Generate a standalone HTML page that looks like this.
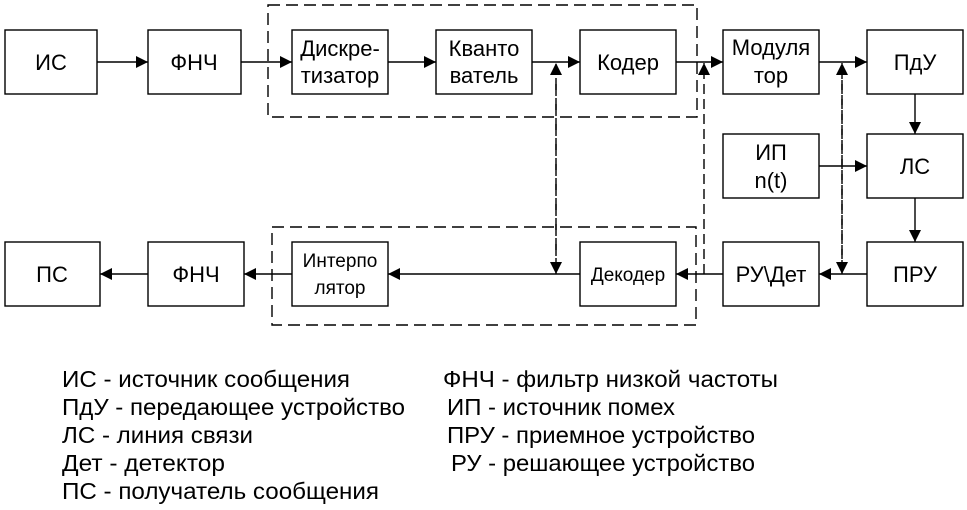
<!DOCTYPE html>
<html><head><meta charset="utf-8"><style>
html,body{margin:0;padding:0;background:#fff;}
svg{display:block;font-family:"Liberation Sans","DejaVu Sans",sans-serif;}
</style></head><body>
<svg width="967" height="510" viewBox="0 0 967 510" xmlns="http://www.w3.org/2000/svg">
<defs>
<marker id="a" markerWidth="13" markerHeight="12" refX="12" refY="6" orient="auto" markerUnits="userSpaceOnUse">
<path d="M0,0 L12,6 L0,12 Z" fill="#000"/></marker>
</defs>
<g fill="none" stroke="#000" stroke-width="1.4">
<rect x="268" y="5" width="429" height="112" stroke-dasharray="12,6"/>
<rect x="272" y="227" width="424" height="98" stroke-dasharray="12,6"/>
<rect x="5" y="30" width="92" height="64"/>
<rect x="148" y="30" width="93" height="64"/>
<rect x="292" y="30" width="96" height="64"/>
<rect x="436" y="30" width="96" height="64"/>
<rect x="580" y="30" width="96" height="64"/>
<rect x="723" y="30" width="96" height="64"/>
<rect x="867" y="30" width="96" height="64"/>
<rect x="723" y="134" width="96" height="64"/>
<rect x="867" y="134" width="96" height="64"/>
<rect x="5" y="242" width="95" height="64"/>
<rect x="148" y="242" width="96" height="64"/>
<rect x="292" y="242" width="96" height="64"/>
<rect x="580" y="242" width="96" height="64"/>
<rect x="723" y="242" width="96" height="64"/>
<rect x="867" y="242" width="96" height="64"/>
<line x1="97" y1="62" x2="148" y2="62" marker-end="url(#a)"/>
<line x1="241" y1="62" x2="292" y2="62" marker-end="url(#a)"/>
<line x1="388" y1="62" x2="436" y2="62" marker-end="url(#a)"/>
<line x1="532" y1="62" x2="580" y2="62" marker-end="url(#a)"/>
<line x1="676" y1="62" x2="723" y2="62" marker-end="url(#a)"/>
<line x1="819" y1="62" x2="867" y2="62" marker-end="url(#a)"/>
<line x1="915" y1="94" x2="915" y2="134" marker-end="url(#a)"/>
<line x1="819" y1="166" x2="867" y2="166" marker-end="url(#a)"/>
<line x1="915" y1="198" x2="915" y2="242" marker-end="url(#a)"/>
<line x1="867" y1="274" x2="819" y2="274" marker-end="url(#a)"/>
<line x1="723" y1="274" x2="676" y2="274" marker-end="url(#a)"/>
<line x1="580" y1="274" x2="388" y2="274" marker-end="url(#a)"/>
<line x1="292" y1="274" x2="244" y2="274" marker-end="url(#a)"/>
<line x1="148" y1="274" x2="100" y2="274" marker-end="url(#a)"/>
<line x1="556" y1="274" x2="556" y2="63" stroke-dasharray="10,4,2,4" marker-end="url(#a)"/>
<line x1="556" y1="80" x2="556" y2="274" stroke-dasharray="10,4,2,4" marker-end="url(#a)"/>
<line x1="704" y1="274" x2="704" y2="63" stroke-dasharray="10,5" marker-end="url(#a)"/>
<line x1="842" y1="274" x2="842" y2="63" stroke-dasharray="10,5" marker-end="url(#a)"/>
<line x1="842" y1="80" x2="842" y2="274" stroke-dasharray="10,5" marker-end="url(#a)"/>
</g>
<g font-size="22" text-anchor="middle" fill="#000">
<text x="51" y="70">ИС</text>
<text x="194" y="70">ФНЧ</text>
<text x="340" y="56">Дискре-</text>
<text x="340" y="83">тизатор</text>
<text x="484" y="56">Кванто</text>
<text x="484" y="83">ватель</text>
<text x="628" y="70">Кодер</text>
<text x="771" y="55">Модуля</text>
<text x="771" y="83">тор</text>
<text x="915" y="70">ПдУ</text>
<text x="771" y="160">ИП</text>
<text x="771" y="188">n(t)</text>
<text x="915" y="174">ЛС</text>
<text x="52" y="282">ПС</text>
<text x="196" y="282">ФНЧ</text>
<text x="340" y="267" font-size="19">Интерпо</text>
<text x="340" y="294" font-size="19">лятор</text>
<text x="628" y="281" font-size="19">Декодер</text>
<text x="771" y="282">РУ\Дет</text>
<text x="915" y="282">ПРУ</text>
</g>
<g font-size="23" fill="#000">
<text x="62" y="387" textLength="288" lengthAdjust="spacingAndGlyphs">ИС - источник сообщения</text>
<text x="62" y="415" textLength="343" lengthAdjust="spacingAndGlyphs">ПдУ - передающее устройство</text>
<text x="62" y="443" textLength="191" lengthAdjust="spacingAndGlyphs">ЛС - линия связи</text>
<text x="62" y="471" textLength="163" lengthAdjust="spacingAndGlyphs">Дет - детектор</text>
<text x="62" y="499" textLength="317" lengthAdjust="spacingAndGlyphs">ПС - получатель сообщения</text>
<text x="443" y="387" textLength="335" lengthAdjust="spacingAndGlyphs">ФНЧ - фильтр низкой частоты</text>
<text x="447" y="415" textLength="228" lengthAdjust="spacingAndGlyphs">ИП - источник помех</text>
<text x="447" y="443" textLength="308" lengthAdjust="spacingAndGlyphs">ПРУ - приемное устройство</text>
<text x="451" y="471" textLength="304" lengthAdjust="spacingAndGlyphs">РУ - решающее устройство</text>
</g>
</svg>
</body></html>
